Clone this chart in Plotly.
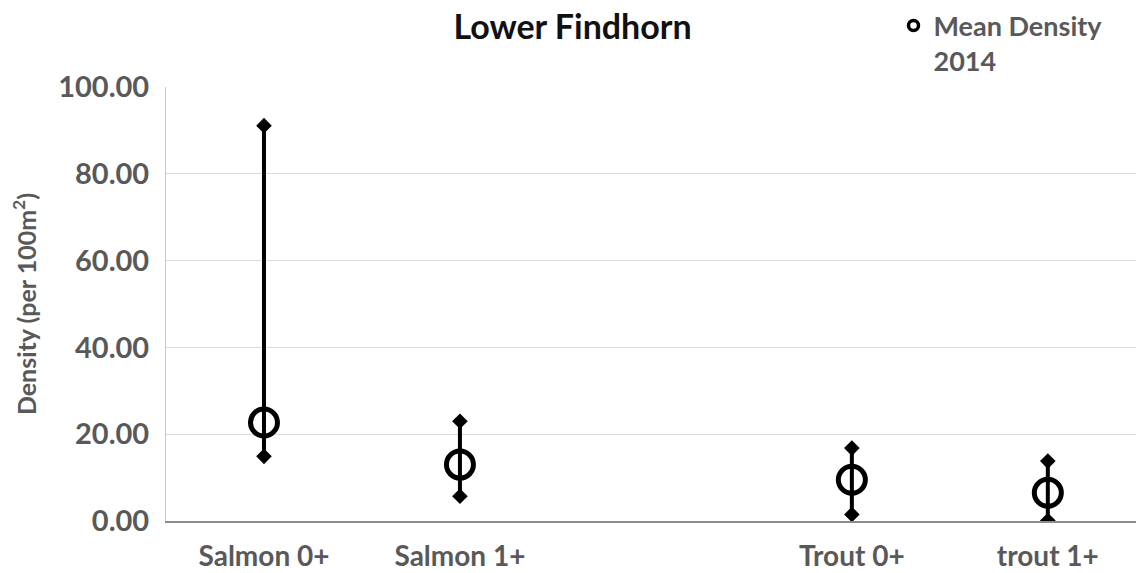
import plotly.graph_objects as go

categories = ["Salmon 0+", "Salmon 1+", " ", "Trout 0+", "trout 1+"]
mean_density = [22.7, 13.0, None, 9.5, 6.5]
max_density = [91.1, 23.0, None, 16.8, 13.8]
min_density = [14.9, 5.7, None, 1.5, 0.1]
y_ticks = [0, 20, 40, 60, 80, 100]

FONT = "Lato"
GRAY = "#595959"

rx, ry = [], []
for c, lo, hi in zip(categories, min_density, max_density):
    if lo is None:
        continue
    rx += [c, c, None]
    ry += [lo, hi, None]

fig = go.Figure()
# keep the empty category slot
fig.add_trace(go.Scatter(x=categories, y=[None] * len(categories), mode="markers",
                         showlegend=False, hoverinfo="skip"))
fig.add_trace(go.Scatter(x=rx, y=ry, mode="lines+markers",
                         line=dict(color="black", width=4),
                         marker=dict(symbol="diamond", size=12, color="black"),
                         showlegend=False, connectgaps=False))
fig.add_trace(go.Scatter(x=categories, y=mean_density, mode="markers",
                         marker=dict(symbol="circle-open", size=27, color="black",
                                     line=dict(width=5, color="black")),
                         showlegend=False))
# legend entry
fig.add_trace(go.Scatter(x=[None], y=[None], mode="markers", name="Mean Density<br>2014",
                         marker=dict(symbol="circle-open", size=10, color="black",
                                     line=dict(width=3.5, color="black")),
                         showlegend=True))

fig.update_layout(
    width=1136, height=573,
    margin=dict(l=166, r=0, t=87, b=52, autoexpand=False),
    paper_bgcolor="white", plot_bgcolor="white",
    font=dict(family=FONT, color=GRAY),
    title=dict(text="<b>Lower Findhorn</b>", x=0.504, xanchor="center",
               y=0.953, yanchor="middle",
               font=dict(family=FONT, size=34, color="#111111")),
    showlegend=True,
    legend=dict(x=0.75, xanchor="left", y=1.197, yanchor="top", valign="top",
                font=dict(family=FONT, size=27, color=GRAY, weight="bold"),
                itemsizing="trace", bgcolor="rgba(0,0,0,0)",
                tracegroupgap=0),
    xaxis=dict(type="category", categoryorder="array", categoryarray=categories,
               range=[-0.5, 4.45], showgrid=False, zeroline=False, automargin=False,
               showline=True, linecolor="#8c8c8c", linewidth=1.5,
               ticks="", ticklabelstandoff=10,
               tickfont=dict(family=FONT, size=28, color=GRAY, weight="bold")),
    yaxis=dict(range=[0, 100], tickvals=y_ticks, tickformat=".2f", automargin=False,
               showgrid=True, gridcolor="#dcdcdc", gridwidth=1.2,
               zeroline=False, showline=True, linecolor="#c8c8c8", linewidth=1,
               ticks="", ticklabelstandoff=10,
               tickfont=dict(family=FONT, size=29, color=GRAY, weight="bold"),
               title=dict(text="<b>Density (per 100m<sup>2</sup>)</b>", standoff=14,
                          font=dict(family=FONT, size=25, color=GRAY))),
)

fig.write_html("out.html", config={"displayModeBar": False},
               post_script="document.body.style.margin='0';")
